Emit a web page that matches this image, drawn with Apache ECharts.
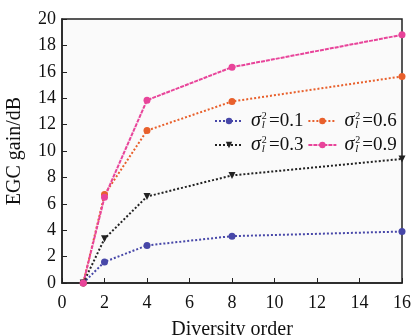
<!DOCTYPE html>
<html>
<head>
<meta charset="utf-8">
<script src="https://cdn.jsdelivr.net/npm/echarts@6/dist/echarts.min.js"></script>
<style>
  html, body { margin: 0; padding: 0; background: #fff; }
  #main { width: 418px; height: 335px; }
</style>
</head>
<body>
<div id="main"></div>
<script>
var chartDom = document.getElementById("main");
var myChart = echarts.init(chartDom);
var option;

// diversity order on the x axis
const orders = [1, 2, 4, 8, 16];
const gain01 = [0, 1.6, 2.85, 3.55, 3.9];
const gain03 = [0, 3.35, 6.55, 8.15, 9.4];
const gain06 = [0, 6.7, 11.55, 13.75, 15.65];
const gain09 = [0, 6.5, 13.85, 16.35, 18.8];
const variances = ["0.1", "0.6", "0.3", "0.9"];

const font = "Liberation Serif";

function pairs(ys) {
  return orders.map((x, i) => [x, ys[i]]);
}

function line(name, ys, color, symbol, type) {
  return {
    name,
    type: "line",
    data: pairs(ys),
    symbol,
    symbolSize: 7,
    symbolRotate: symbol === "triangle" ? 180 : 0,
    itemStyle: { color },
    lineStyle: { color, width: 2, type },
  };
}

const series = [
  line("0.1", gain01, "#4747a8", "circle", "dotted"),
  line("0.6", gain06, "#e8602c", "circle", "dotted"),
  line("0.3", gain03, "#222222", "triangle", "dotted"),
  line("0.9", gain09, "#e8449a", "circle", [4, 1]),
];

option = {
  backgroundColor: "#fff",
  textStyle: { fontFamily: font },
  animation: false,
  grid: {
    left: 62,
    right: 16,
    top: 19,
    bottom: 52,
    outerBoundsMode: "none",
    show: true,
    backgroundColor: "#fafafa",
    borderColor: "#222",
    borderWidth: 1.5,
  },
  legend: {
    data: variances,
    left: 209,
    top: 106,
    width: 205,
    itemWidth: 28,
    itemHeight: 8,
    itemGap: 4,
    textStyle: {
      fontFamily: font,
      fontSize: 18,
      color: "#111",
      padding: [0, 0, 0, 3],
      rich: {
        s: { fontFamily: font, fontStyle: "italic", fontSize: 20, color: "#111" },
        sp: { fontFamily: font, fontSize: 10, color: "#111", verticalAlign: "top", padding: [0, 0, 9, 1] },
        sb: { fontFamily: font, fontStyle: "italic", fontSize: 11, color: "#111", padding: [9, 0, 0, -5] },
        v: { fontFamily: font, fontSize: 19, color: "#111", padding: [0, 0, 0, 4] },
      },
    },
    formatter: (name) => "{s|σ}{sp|2}{sb|l}{v|=" + name + "}",
  },
  xAxis: {
    type: "value",
    min: 0,
    max: 16,
    interval: 2,
    name: "Diversity order",
    nameLocation: "middle",
    nameGap: 37,
    nameTextStyle: { fontFamily: font, fontSize: 20, color: "#111" },
    axisLine: { lineStyle: { color: "#222", width: 1.5 } },
    axisTick: { inside: true, length: 5, lineStyle: { color: "#222" } },
    axisLabel: { fontFamily: font, fontSize: 18, color: "#111", margin: 11 },
    splitLine: { show: false },
  },
  yAxis: {
    type: "value",
    min: 0,
    max: 20,
    interval: 2,
    name: "EGC gain/dB",
    nameLocation: "middle",
    nameGap: 37,
    nameTextStyle: { fontFamily: font, fontSize: 20, color: "#111" },
    axisLine: { show: true, lineStyle: { color: "#222", width: 1.5 } },
    axisTick: { show: true, inside: true, length: 5, lineStyle: { color: "#222" } },
    axisLabel: { fontFamily: font, fontSize: 18, color: "#111", margin: 6 },
    splitLine: { show: false },
  },
  series,
};

option && myChart.setOption(option);
</script>
</body>
</html>
